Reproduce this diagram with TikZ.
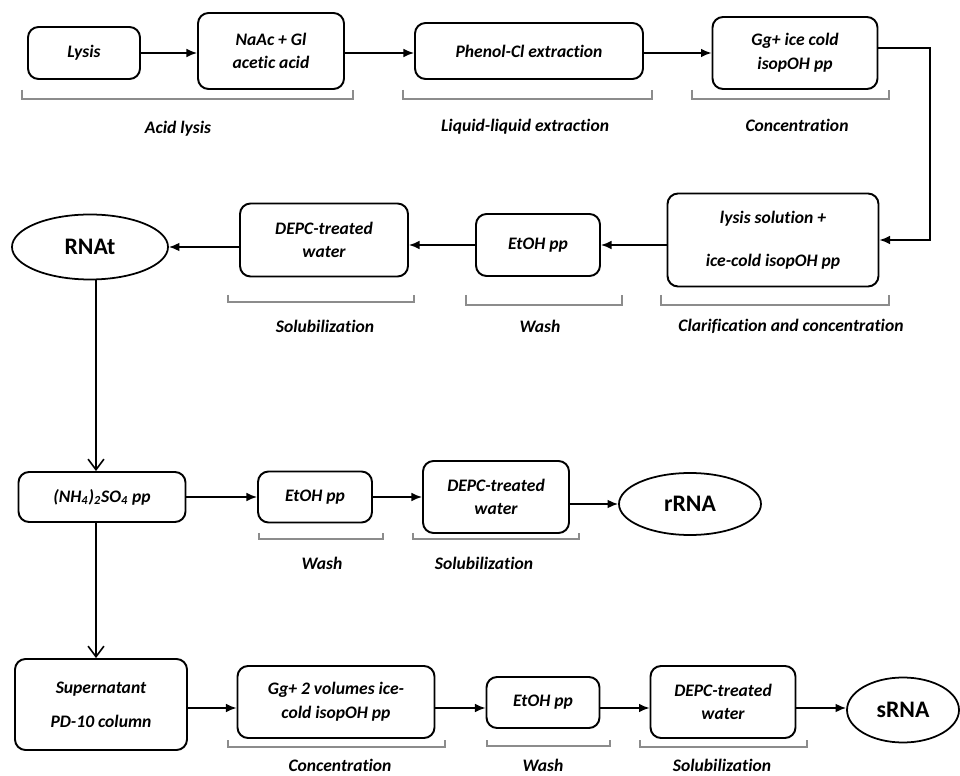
\documentclass[tikz,border=0pt]{standalone}
\usepackage{fontspec}
\setmainfont[Ligatures=NoCommon]{Carlito}
\usetikzlibrary{arrows.meta,shapes.geometric}
\begin{document}
\begin{tikzpicture}[x=0.02cm,y=-0.02cm,
  box/.style={draw, line width=1.1pt, rounded corners=6pt, align=center,
    font=\fontsize{10}{13.5}\selectfont\bfseries\itshape, inner sep=1pt},
  wh/.style 2 args={minimum width=#1*0.02cm, minimum height=#2*0.02cm},
  oval/.style={draw, ellipse, line width=1pt, inner sep=0pt,
    font=\fontsize{13.5}{15}\selectfont\bfseries},
  flow/.style={line width=1pt, -{Latex[length=6pt,width=5pt]}},
  down/.style={line width=0.9pt, -{Straight Barb[length=6pt,width=9pt]}},
  brk/.style={draw=black!45, line width=0.9pt},
  lbl/.style={font=\fontsize{10}{12}\selectfont\bfseries\itshape, inner sep=0pt}]
\clip (0,0) rectangle (960,776);
\fill[white] (0,0) rectangle (960,776);

% ---- row 1
\node[box, wh={112}{52}]  (lysis)  at (84,53)  {Lysis};
\node[box, wh={146}{76}]  (naac)   at (271,51) {NaAc + Gl\\acetic acid};
\node[box, wh={228}{56}]  (phenol) at (529,51) {Phenol-Cl extraction};
\node[box, wh={165}{72}]  (gg1)    at (795,53) {Gg+ ice cold\\isopOH pp};

% ---- row 2
\node[box, wh={211}{93}]  (lsol)   at (773,240) {lysis solution +\\[11pt]ice-cold isopOH pp};
\node[box, wh={124}{62}]  (etoh1)  at (538,245) {EtOH pp};
\node[box, wh={168}{73}]  (depc1)  at (324,240) {DEPC-treated\\water};
\node[oval, minimum width=156*0.02cm, minimum height=65*0.02cm] (rnat) at (90,247) {RNAt};

% ---- row 3
\node[box, wh={167}{50}]  (nh4)    at (102,497) {(NH\textsubscript{4})\textsubscript{2}SO\textsubscript{4} pp};
\node[box, wh={114}{51}]  (etoh2)  at (315,497) {EtOH pp};
\node[box, wh={146}{72}]  (depc2)  at (496,497) {DEPC-treated\\water};
\node[oval, minimum width=142*0.02cm, minimum height=62*0.02cm] (rrna) at (690,504) {rRNA};

% ---- row 4
\node[box, wh={172}{91}]  (super)  at (101,704.5) {Supernatant\\[6pt]PD-10 column};
\node[box, wh={197}{72}]  (gg2)    at (336,702) {Gg+ 2 volumes ice-\\cold isopOH pp};
\node[box, wh={113}{51}]  (etoh3)  at (543,702.5) {EtOH pp};
\node[box, wh={145}{72}]  (depc3)  at (723,702) {DEPC-treated\\water};
\node[oval, minimum width=112*0.02cm, minimum height=65*0.02cm] (srna) at (903,710) {sRNA};

% ---- connectors
\coordinate (turn) at (930,48);
\coordinate (vx) at (96,0);
\coordinate (r4) at (0,708);

\draw[flow] (lysis.east) -- (lysis.east -| naac.west);
\draw[flow] (naac.east |- gg1.west) -- (naac.east |- gg1.west -| phenol.west);
\draw[flow] (phenol.east |- gg1.west) -- (gg1.west);
\draw[flow] (gg1.east |- turn) -- (turn) |- (lsol.east);
\draw[flow] (lsol.west |- etoh1.east) -- (etoh1.east);
\draw[flow] (etoh1.west) -- (etoh1.west -| depc1.east);
\draw[flow] (depc1.west |- rnat.east) -- (rnat.east);
\draw[down] (rnat.south -| vx) -- (nh4.north -| vx);
\draw[flow] (nh4.east) -- (nh4.east -| etoh2.west);
\draw[flow] (etoh2.east) -- (etoh2.east -| depc2.west);
\draw[flow] (depc2.east |- rrna.west) -- (rrna.west);
\draw[down] (nh4.south -| vx) -- (super.north -| vx);
\draw[flow] (super.east |- r4) -- (gg2.west |- r4);
\draw[flow] (gg2.east |- r4) -- (etoh3.west |- r4);
\draw[flow] (etoh3.east |- r4) -- (depc3.west |- r4);
\draw[flow] (depc3.east |- r4) -- (srna.west |- r4);

% ---- brackets and stage labels
\draw[brk] (22,90) -- (22,99) -- (353,99) -- (353,90);
\node[lbl] (l1) at (178,129) {Acid lysis};
\draw[brk] (403,90) -- (403,99) -- (652,99) -- (652,90);
\node[lbl] (l2) at (525,127) {Liquid-liquid extraction};
\draw[brk] (692,90) -- (692,99) -- (889,99) -- (889,90);
\node[lbl] (l3) at (797,125) {Concentration};

\draw[brk] (661,295) -- (661,305) -- (889,305) -- (889,295);
\node[lbl] (l4) at (791,326) {Clarification and concentration};
\draw[brk] (466,295) -- (466,305) -- (622,305) -- (622,295);
\node[lbl] (l5) at (540,326) {Wash};
\draw[brk] (228,295) -- (228,302) -- (414,302) -- (414,295);
\node[lbl] (l6) at (325,326) {Solubilization};

\draw[brk] (259,533) -- (259,539) -- (383,539) -- (383,533);
\node[lbl] (l7) at (322,563) {Wash};
\draw[brk] (413,533) -- (413,539) -- (579,539) -- (579,533);
\node[lbl] (l8) at (484,563) {Solubilization};

\draw[brk] (228,740) -- (228,747) -- (445,747) -- (445,740);
\node[lbl] (l9) at (340,765) {Concentration};
\draw[brk] (487,740) -- (487,746) -- (610,746) -- (610,740);
\node[lbl] (l10) at (543,765) {Wash};
\draw[brk] (640,740) -- (640,747) -- (807,747) -- (807,740);
\node[lbl] (l11) at (722,765) {Solubilization};
\end{tikzpicture}
\end{document}
